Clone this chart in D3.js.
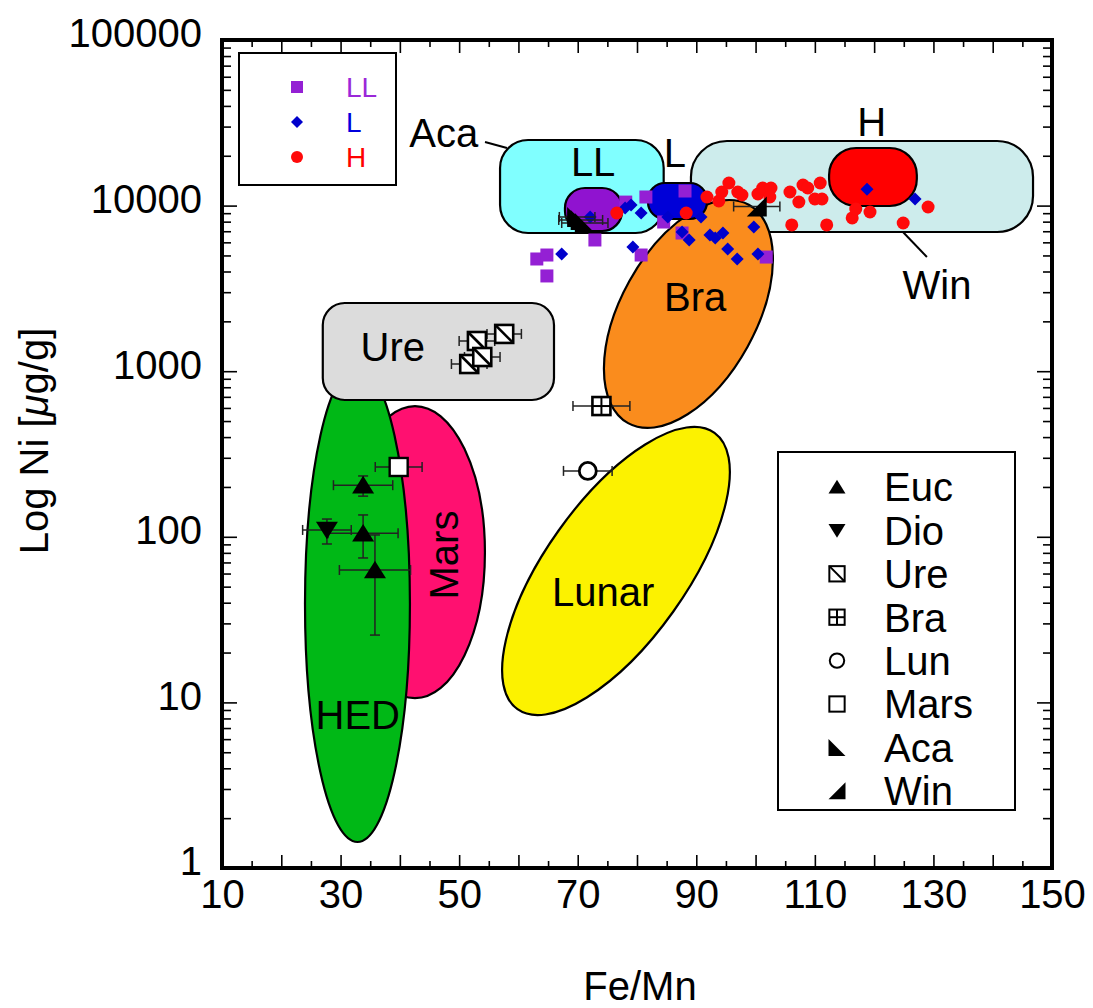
<!DOCTYPE html>
<html><head><meta charset="utf-8">
<script src="https://cdn.jsdelivr.net/npm/d3@7"></script>
<style>
body{margin:0;background:#fff;}
svg{display:block;}
text{font-family:"Liberation Sans",Arial,Helvetica,sans-serif;}
</style>
</head><body>
<svg id="chart" width="1093" height="1008"></svg>
<script>
// ---------- tick labels ----------
const xTickLabels = [10, 30, 50, 70, 90, 110, 130, 150];
const yTickLabels = [1, 10, 100, 1000, 10000, 100000];

// ---------- ordinary chondrites (scatter) ----------
const llFeMn = [63.1, 64.8, 64.8, 72.9, 78.1, 81.5, 88.1, 84.5, 87.6, 80.7, 101.8];
const llNi   = [4760, 5030, 3760, 6200, 10500, 11270, 12250, 7960, 6830, 5030, 4890];

const lFeMn = [67.3, 72.1, 78.0, 79.0, 80.7, 79.3, 85.2, 90.8, 87.6, 88.8, 92.3, 93.2, 94.5, 95.3, 96.9, 99.7, 100.4, 118.8, 126.9];
const lNi   = [5100, 8540, 9670, 10080, 9020, 5620, 8540, 8540, 6930, 6200, 6650, 6370, 6830, 5470, 4760, 7430, 5100, 12560, 10960];

const hFeMn = [76.6, 88.3, 91.8, 93.8, 94.3, 95.5, 97.0, 97.7, 100.4, 101.2, 102.6, 105.8, 107.3, 108.0, 108.8, 110.0, 110.9, 111.2, 106.1, 112.0, 116.3, 116.9, 119.3, 124.9, 129.1, 102.4];
const hNi   = [9020, 9020, 11270, 10660, 12080, 13690, 12080, 11590, 11750, 12770, 12770, 12080, 10510, 13320, 12770, 10960, 13690, 10960, 7640, 7640, 8420, 9540, 9150, 7850, 9810, 11270];

// ---------- individual meteorite groups with error bars ----------
const groupNames = ["Euc", "Dio", "Ure", "Bra", "Lun", "Mars", "Aca", "Win"];
const specGroup  = ["Euc", "Euc", "Euc", "Dio", "Ure", "Ure", "Ure", "Ure", "Bra", "Lun", "Mars", "Aca", "Aca", "Aca", "Win"];
const specFeMn   = [33.8, 33.8, 35.8, 27.7, 57.6, 51.7, 53.0, 53.9, 74.0, 71.7, 39.8, 69.9, 70.5, 71.2, 100.2];
const specNi     = [205, 105, 63, 110, 1679, 1105, 1522, 1218, 616, 250, 264, 8540, 8190, 7850, 9880];
const specFeMnErr= [5.0, 5.9, 6.0, 4.1, 2.9, 3.0, 3.0, 3.0, 4.8, 4.1, 3.95, 3.0, 3.7, 3.9, 3.9];
const specNiLo   = [176, 74.5, 25.5, 90.5, null, null, null, null, null, null, null, null, null, null, null];
const specNiHi   = [233, 135.5, 102.6, 128, null, null, null, null, null, null, null, null, null, null, null];

// ---------- fields (rounded boxes) ----------
const boxNames  = ["Hfield", "LLfield", "Ure", "Hcore", "LLcore", "Lcore"];
const boxFeMn0  = [89.1, 56.9, 27.0, 112.4, 67.85, 81.85];
const boxFeMn1  = [146.8, 84.5, 66.0, 127.2, 77.5, 91.8];
const boxNiHi   = [24560, 24900, 2581, 22280, 12774, 13693];
const boxNiLo   = [6928, 6832, 670, 9945, 7024, 8300];

// ---------- fields (ellipses: ends of long axis + half width in Fe/Mn) ----------
const ellNames  = ["Bra", "Lunar", "Mars", "HED"];
const ellFeMnA  = [98.85, 93.07, 42.55, 32.85];
const ellNiA    = [10111, 424.6, 616, 1075];
const ellFeMnB  = [78.5, 59.84, 42.55, 32.85];
const ellNiB    = [485.6, 9.1, 10.6, 1.436];
const ellHalfW  = [11.4, 11.84, 11.8, 8.85];

// ---------- annotations ----------
const labelTexts = ["Ure", "HED", "Mars", "Lunar", "Bra", "LL", "L", "H", "Aca", "Win"];
const labelFeMn  = [38.8, 32.9, 47.3, 74.3, 89.8, 72.6, 86.4, 119.6, 47.4, 130.6];
const labelNi    = [1400, 8.4, 77.6, 46.4, 2805, 18330, 20800, 31990, 27420, 3315];
const leaderFeMn0 = [54.36, 124.86];
const leaderNi0   = [24220, 6928];
const leaderFeMn1 = [58.07, 128.9];
const leaderNi1   = [22280, 4894];

const chondriteNames = ["LL", "L", "H"];

// ---------- styles ----------
const FONT = '"Liberation Sans",Arial,Helvetica,sans-serif';
const FS = 40;
const boxFill = {Hfield: "#cdecec", LLfield: "#80ffff", Ure: "#dcdcdc", Hcore: "#ff0000", LLcore: "#9013d0", Lcore: "#0000d8"};
const boxRadius = {Hfield: 36, LLfield: 28, Ure: 22, Hcore: 27, LLcore: 20, Lcore: 17};
const ellFill = {Bra: "#fa8c1d", Lunar: "#fcf200", Mars: "#ff1070", HED: "#00b816"};
const chondColor = {LL: "#9420d4", L: "#0000cc", H: "#ff0a0a"};
const legendTextColor = {LL: "#9a28d8", L: "#0000dd", H: "#ff0000"};

const svg = d3.select("#chart");
const L = 222, R = 1052, T = 40, B = 868;
const x = d3.scaleLinear().domain([10, 150]).range([L, R]);
const y = d3.scaleLog().domain([1, 100000]).range([B, T]);

// ---------- regions ----------
const regions = svg.append("g");
function drawBox(name) {
  const i = boxNames.indexOf(name);
  const x0 = x(boxFeMn0[i]), x1 = x(boxFeMn1[i]);
  const y0 = y(boxNiHi[i]), y1 = y(boxNiLo[i]);
  regions.append("rect").attr("x", x0).attr("y", y0)
    .attr("width", x1 - x0).attr("height", y1 - y0)
    .attr("rx", boxRadius[name]).attr("ry", boxRadius[name])
    .attr("fill", boxFill[name]).attr("stroke", "#000").attr("stroke-width", 2.2);
}
function drawEllipse(name) {
  const i = ellNames.indexOf(name);
  const xa = x(ellFeMnA[i]), ya = y(ellNiA[i]), xb = x(ellFeMnB[i]), yb = y(ellNiB[i]);
  const cx = (xa + xb) / 2, cy = (ya + yb) / 2;
  const a = Math.hypot(xb - xa, yb - ya) / 2;
  const ang = Math.atan2(yb - ya, xb - xa) * 180 / Math.PI;
  const b = x(10 + ellHalfW[i]) - x(10);
  regions.append("ellipse").attr("cx", 0).attr("cy", 0).attr("rx", a).attr("ry", b)
    .attr("transform", `translate(${cx},${cy}) rotate(${ang})`)
    .attr("fill", ellFill[name]).attr("stroke", "#000").attr("stroke-width", 2.2);
}
drawBox("Hfield");
drawBox("LLfield");
drawEllipse("Bra");
drawEllipse("Lunar");
drawEllipse("Mars");
drawEllipse("HED");
drawBox("Ure");
drawBox("Hcore");
drawBox("LLcore");
drawBox("Lcore");

// ---------- annotation labels ----------
const ann = svg.append("g");
labelTexts.forEach((t, i) => {
  const px = x(labelFeMn[i]), py = y(labelNi[i]);
  const tx = ann.append("text").text(t)
    .attr("font-size", FS).attr("font-family", FONT).attr("fill", "#000")
    .attr("text-anchor", "middle").attr("dy", "0.36em");
  if (t === "Mars") tx.attr("transform", `translate(${px},${py}) rotate(-90)`);
  else tx.attr("x", px).attr("y", py);
});
leaderFeMn0.forEach((v, i) => {
  ann.append("line").attr("x1", x(v)).attr("y1", y(leaderNi0[i]))
    .attr("x2", x(leaderFeMn1[i])).attr("y2", y(leaderNi1[i]))
    .attr("stroke", "#000").attr("stroke-width", 2);
});

// ---------- marker shapes ----------
function markerPath(g, type, cx, cy, s) {
  const h = s / 2;
  if (type === "Euc") {
    g.append("path").attr("d", `M${cx},${cy - h * 0.85}L${cx + h},${cy + h * 0.75}L${cx - h},${cy + h * 0.75}Z`).attr("fill", "#000");
  } else if (type === "Dio") {
    g.append("path").attr("d", `M${cx},${cy + h * 0.85}L${cx + h},${cy - h * 0.75}L${cx - h},${cy - h * 0.75}Z`).attr("fill", "#000");
  } else if (type === "Aca") {
    g.append("path").attr("d", `M${cx - h},${cy - h}L${cx - h},${cy + h}L${cx + h},${cy + h}Z`).attr("fill", "#000");
  } else if (type === "Win") {
    g.append("path").attr("d", `M${cx + h},${cy - h}L${cx + h},${cy + h}L${cx - h},${cy + h}Z`).attr("fill", "#000");
  } else if (type === "Ure") {
    const q = h * 0.9;
    g.append("rect").attr("x", cx - q).attr("y", cy - q).attr("width", 2 * q).attr("height", 2 * q)
      .attr("fill", "#fff").attr("stroke", "#000").attr("stroke-width", s > 17 ? 2.6 : 2);
    g.append("line").attr("x1", cx - q).attr("y1", cy - q).attr("x2", cx + q).attr("y2", cy + q)
      .attr("stroke", "#000").attr("stroke-width", s > 17 ? 2.6 : 2);
  } else if (type === "Bra") {
    const q = h * 0.9;
    g.append("rect").attr("x", cx - q).attr("y", cy - q).attr("width", 2 * q).attr("height", 2 * q)
      .attr("fill", "#fff").attr("stroke", "#000").attr("stroke-width", s > 17 ? 2.6 : 2);
    g.append("line").attr("x1", cx - q).attr("y1", cy).attr("x2", cx + q).attr("y2", cy).attr("stroke", "#000").attr("stroke-width", 2);
    g.append("line").attr("x1", cx).attr("y1", cy - q).attr("x2", cx).attr("y2", cy + q).attr("stroke", "#000").attr("stroke-width", 2);
  } else if (type === "Lun") {
    g.append("circle").attr("cx", cx).attr("cy", cy).attr("r", h * 0.85)
      .attr("fill", "#fff").attr("stroke", "#000").attr("stroke-width", s > 17 ? 2.8 : 2);
  } else if (type === "Mars") {
    const q = h * 0.9;
    g.append("rect").attr("x", cx - q).attr("y", cy - q).attr("width", 2 * q).attr("height", 2 * q)
      .attr("fill", "#fff").attr("stroke", "#000").attr("stroke-width", s > 17 ? 2.4 : 2);
  }
}

// ---------- chondrite scatter ----------
const pts = svg.append("g");
llFeMn.forEach((v, i) => {
  pts.append("rect").attr("x", x(v) - 6.5).attr("y", y(llNi[i]) - 6.5)
    .attr("width", 13).attr("height", 13).attr("fill", chondColor.LL);
});
lFeMn.forEach((v, i) => {
  const cx = x(v), cy = y(lNi[i]), d = 6.5;
  pts.append("path").attr("d", `M${cx},${cy - d}L${cx + d},${cy}L${cx},${cy + d}L${cx - d},${cy}Z`)
    .attr("fill", chondColor.L);
});
hFeMn.forEach((v, i) => {
  pts.append("circle").attr("cx", x(v)).attr("cy", y(hNi[i])).attr("r", 6.5).attr("fill", chondColor.H);
});

// ---------- special points with error bars ----------
const sp = svg.append("g");
specGroup.forEach((g, i) => {
  const cx = x(specFeMn[i]), cy = y(specNi[i]);
  const eg = sp.append("g").attr("stroke", "#222").attr("stroke-width", 1.5);
  const xl = x(specFeMn[i] - specFeMnErr[i]), xr = x(specFeMn[i] + specFeMnErr[i]);
  eg.append("line").attr("x1", xl).attr("x2", xr).attr("y1", cy).attr("y2", cy);
  eg.append("line").attr("x1", xl).attr("x2", xl).attr("y1", cy - 5).attr("y2", cy + 5);
  eg.append("line").attr("x1", xr).attr("x2", xr).attr("y1", cy - 5).attr("y2", cy + 5);
  if (specNiLo[i] != null) {
    const yt = y(specNiHi[i]), yb = y(specNiLo[i]);
    eg.append("line").attr("x1", cx).attr("x2", cx).attr("y1", yt).attr("y2", yb);
    eg.append("line").attr("x1", cx - 5).attr("x2", cx + 5).attr("y1", yt).attr("y2", yt);
    eg.append("line").attr("x1", cx - 5).attr("x2", cx + 5).attr("y1", yb).attr("y2", yb);
  }
});
specGroup.forEach((g, i) => {
  const size = (g === "Euc" || g === "Dio") ? 22 : 20;
  markerPath(sp, g, x(specFeMn[i]), y(specNi[i]), size);
});

// ---------- axes ----------
const axes = svg.append("g");
const xMajor = d3.range(10, 151, 10), xMinor = d3.range(15, 150, 10);
const yMajor = yTickLabels;
const yMinor = [];
for (let k = 0; k < 5; k++) for (let m = 2; m <= 9; m++) yMinor.push(m * Math.pow(10, k));

function styleAxis(g) {
  g.select(".domain").remove();
  g.selectAll(".tick line").attr("stroke", "#000").attr("stroke-width", 1.6);
  g.selectAll("text").attr("font-size", FS).attr("font-family", FONT).attr("fill", "#000");
}
axes.append("g").attr("transform", `translate(0,${B})`)
  .call(d3.axisBottom(x).tickValues(xMajor).tickSize(-13).tickPadding(12)
    .tickFormat(d => xTickLabels.includes(d) ? String(d) : "")).call(styleAxis);
axes.append("g").attr("transform", `translate(0,${B})`)
  .call(d3.axisBottom(x).tickValues(xMinor).tickSize(-7).tickFormat("")).call(styleAxis);
axes.append("g").attr("transform", `translate(0,${T})`)
  .call(d3.axisTop(x).tickValues(xMajor).tickSize(-13).tickFormat("")).call(styleAxis);
axes.append("g").attr("transform", `translate(0,${T})`)
  .call(d3.axisTop(x).tickValues(xMinor).tickSize(-7).tickFormat("")).call(styleAxis);
axes.append("g").attr("transform", `translate(${L},0)`)
  .call(d3.axisLeft(y).tickValues(yMajor).tickSize(-15).tickPadding(20)
    .tickFormat(d3.format("d"))).call(styleAxis)
  .selectAll("text").attr("dy", "0.17em");
axes.append("g").attr("transform", `translate(${L},0)`)
  .call(d3.axisLeft(y).tickValues(yMinor).tickSize(-9).tickFormat("")).call(styleAxis);
axes.append("g").attr("transform", `translate(${R},0)`)
  .call(d3.axisRight(y).tickValues(yMajor).tickSize(-15).tickFormat("")).call(styleAxis);
axes.append("g").attr("transform", `translate(${R},0)`)
  .call(d3.axisRight(y).tickValues(yMinor).tickSize(-9).tickFormat("")).call(styleAxis);

axes.append("rect").attr("x", L).attr("y", T).attr("width", R - L).attr("height", B - T)
  .attr("fill", "none").attr("stroke", "#000").attr("stroke-width", 4);

// axis titles
svg.append("text").attr("x", (L + R) / 2 + 3).attr("y", 1000).attr("text-anchor", "middle")
  .attr("font-size", FS).attr("font-family", FONT).text("Fe/Mn");
const yt = svg.append("text").attr("transform", "translate(48,441) rotate(-90)")
  .attr("text-anchor", "middle").attr("font-size", FS).attr("font-family", FONT);
yt.append("tspan").text("Log Ni [");
yt.append("tspan").attr("font-style", "italic").text("μ");
yt.append("tspan").text("g/g]");

// ---------- legend: chondrites ----------
const lg1 = svg.append("g");
lg1.append("rect").attr("x", 239).attr("y", 53).attr("width", 157).attr("height", 132)
  .attr("fill", "#fff").attr("stroke", "#000").attr("stroke-width", 2);
chondriteNames.forEach((n, i) => {
  const cy = 87 + i * 35, cx = 297;
  if (n === "LL") lg1.append("rect").attr("x", cx - 6).attr("y", cy - 6).attr("width", 12).attr("height", 12).attr("fill", chondColor.LL);
  if (n === "L") lg1.append("path").attr("d", `M${cx},${cy - 6}L${cx + 6},${cy}L${cx},${cy + 6}L${cx - 6},${cy}Z`).attr("fill", chondColor.L);
  if (n === "H") lg1.append("circle").attr("cx", cx).attr("cy", cy).attr("r", 6).attr("fill", chondColor.H);
  lg1.append("text").attr("x", 346).attr("y", cy).attr("dy", "0.36em")
    .attr("font-size", 28).attr("font-family", FONT).attr("fill", legendTextColor[n]).text(n);
});

// ---------- legend: groups ----------
const lg2 = svg.append("g");
lg2.append("rect").attr("x", 778).attr("y", 452).attr("width", 237).attr("height", 358)
  .attr("fill", "#fff").attr("stroke", "#000").attr("stroke-width", 2);
groupNames.forEach((n, i) => {
  const cy = 487 + i * 43.4;
  markerPath(lg2, n, 837, cy, 17);
  lg2.append("text").attr("x", 884).attr("y", cy).attr("dy", "0.36em")
    .attr("font-size", FS).attr("font-family", FONT).attr("fill", "#000").text(n);
});
</script>
</body></html>
